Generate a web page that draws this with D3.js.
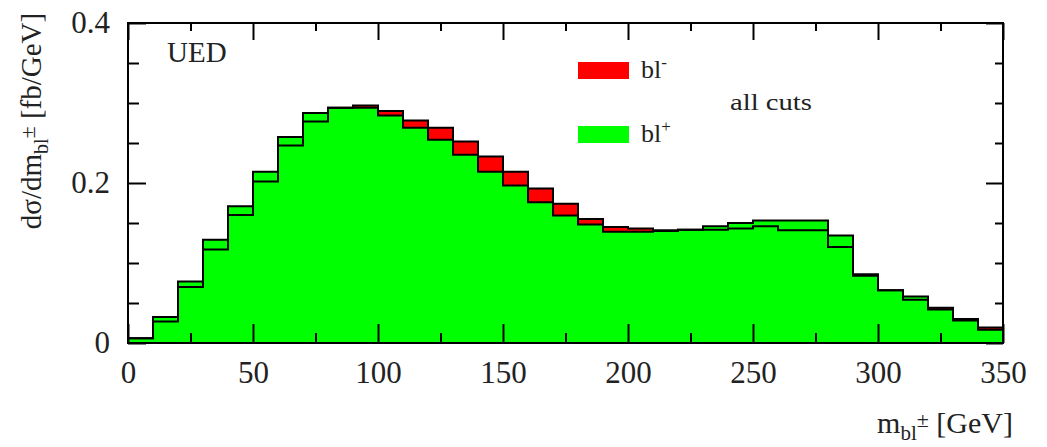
<!DOCTYPE html>
<html>
<head>
<meta charset="utf-8">
<script src="https://cdn.jsdelivr.net/npm/d3@7"></script>
<style>
  body { margin: 0; background: #fff; }
  svg text { font-family: "Liberation Serif", "Times New Roman", serif; fill: #222; }
</style>
</head>
<body>
<div id="chart"></div>
<script>
// bin lower edges (GeV), 10 GeV wide
var binEdges = [0, 10, 20, 30, 40, 50, 60, 70, 80, 90, 100, 110, 120, 130, 140, 150, 160, 170,
    180, 190, 200, 210, 220, 230, 240, 250, 260, 270, 280, 290, 300, 310, 320, 330, 340];
var binWidth = 10;

// bl- (red)
var blMinus = [0.006, 0.027, 0.070, 0.117, 0.160, 0.202, 0.247, 0.277, 0.294, 0.297, 0.290, 0.278,
    0.269, 0.252, 0.233, 0.214, 0.193, 0.174, 0.155, 0.145, 0.143, 0.141, 0.1415, 0.1416, 0.143,
    0.146, 0.141, 0.141, 0.120, 0.086, 0.066, 0.054, 0.044, 0.030, 0.0195];
// bl+ (green)
var blPlus = [0.006, 0.0325, 0.077, 0.129, 0.171, 0.214, 0.2575, 0.2875, 0.294, 0.294, 0.2845, 0.269,
    0.254, 0.2354, 0.214, 0.197, 0.176, 0.1595, 0.148, 0.139, 0.139, 0.140, 0.1415, 0.146, 0.150,
    0.153, 0.153, 0.153, 0.1345, 0.084, 0.066, 0.058, 0.042, 0.028, 0.0165];

var xMajor = [0, 50, 100, 150, 200, 250, 300, 350];
var xMinor = [25, 75, 125, 175, 225, 275, 325];
var yMajor = [0, 0.2, 0.4];
var yMinor = [0.05, 0.1, 0.15, 0.25, 0.3, 0.35];

var W = 1047, H = 447;
var margin = {top: 23, right: 44, bottom: 104, left: 128};
var width = W - margin.left - margin.right,
    height = H - margin.top - margin.bottom;

var svg = d3.select("#chart").append("svg")
    .attr("width", W)
    .attr("height", H);

var g = svg.append("g")
    .attr("transform", "translate(" + margin.left + "," + margin.top + ")");

var x = d3.scaleLinear().domain([0, 350]).range([0, width]);
var y = d3.scaleLinear().domain([0, 0.4]).range([height, 0]);

function histPoints(vals) {
    var pts = binEdges.map(function(e, i) { return [e, vals[i]]; });
    pts.push([binEdges[binEdges.length - 1] + binWidth, vals[vals.length - 1]]);
    return pts;
}

var area = d3.area()
    .x(function(d) { return x(d[0]); })
    .y0(y(0))
    .y1(function(d) { return y(d[1]); })
    .curve(d3.curveStepAfter);

var line = d3.line()
    .x(function(d) { return x(d[0]); })
    .y(function(d) { return y(d[1]); })
    .curve(d3.curveStepAfter);

// fills first, then both outlines on top
g.append("path").datum(histPoints(blMinus)).attr("d", area).attr("fill", "#ff0000");
g.append("path").datum(histPoints(blPlus)).attr("d", area).attr("fill", "#00ff00");
g.append("path").datum(histPoints(blMinus)).attr("d", line)
    .attr("fill", "none").attr("stroke", "#000").attr("stroke-width", 2);
g.append("path").datum(histPoints(blPlus)).attr("d", line)
    .attr("fill", "none").attr("stroke", "#000").attr("stroke-width", 2);

// axes (ticks pointing inward)
var fmtY = function(d) { return d === 0 ? "0" : d3.format(".1f")(d); };

function styleAxis(sel) {
    sel.select(".domain").remove();
    sel.selectAll("line").attr("stroke", "#000").attr("stroke-width", 2);
    sel.selectAll("text").style("font-size", "31px")
        .style("font-family", "'Liberation Serif', 'Times New Roman', serif").attr("fill", "#222");
}

g.append("g").attr("transform", "translate(0," + height + ")")
    .call(d3.axisBottom(x).tickValues(xMajor).tickSize(-19).tickPadding(18))
    .call(styleAxis);
g.append("g").attr("transform", "translate(0," + height + ")")
    .call(d3.axisBottom(x).tickValues(xMinor).tickSize(-10).tickFormat(""))
    .call(styleAxis);
g.append("g")
    .call(d3.axisTop(x).tickValues(xMajor).tickSize(-17).tickFormat(""))
    .call(styleAxis);
g.append("g")
    .call(d3.axisTop(x).tickValues(xMinor).tickSize(-8).tickFormat(""))
    .call(styleAxis);

g.append("g")
    .call(d3.axisLeft(y).tickValues(yMajor).tickSize(-18).tickPadding(18).tickFormat(fmtY))
    .call(styleAxis);
g.append("g")
    .call(d3.axisLeft(y).tickValues(yMinor).tickSize(-11).tickFormat(""))
    .call(styleAxis);
g.append("g").attr("transform", "translate(" + width + ",0)")
    .call(d3.axisRight(y).tickValues(yMajor).tickSize(-17).tickFormat(""))
    .call(styleAxis);
g.append("g").attr("transform", "translate(" + width + ",0)")
    .call(d3.axisRight(y).tickValues(yMinor).tickSize(-8).tickFormat(""))
    .call(styleAxis);

// frame
g.append("rect")
    .attr("x", 0).attr("y", 0)
    .attr("width", width).attr("height", height)
    .attr("fill", "none").attr("stroke", "#000").attr("stroke-width", 2);

// labels inside
g.append("text")
    .attr("x", 39).attr("y", 39)
    .style("font-size", "29px")
    .text("UED");

var legend = [
    {label: "bl", sup: "-", color: "#ff0000", yy: 39},
    {label: "bl", sup: "+", color: "#00ff00", yy: 103}
];
legend.forEach(function(d) {
    g.append("rect")
        .attr("x", 450).attr("y", d.yy)
        .attr("width", 51).attr("height", 17)
        .attr("fill", d.color);
    var t = g.append("text")
        .attr("x", 513).attr("y", d.yy + 16)
        .style("font-size", "26px");
    t.append("tspan").text(d.label);
    t.append("tspan").attr("dy", -10).style("font-size", "17px").text(d.sup);
});

g.append("text")
    .attr("x", 602).attr("y", 87)
    .attr("textLength", 82).attr("lengthAdjust", "spacingAndGlyphs")
    .style("font-size", "24px")
    .text("all cuts");

// x axis title
var xt = svg.append("text")
    .attr("x", 1013).attr("y", 433)
    .attr("text-anchor", "end")
    .style("font-size", "30px");
xt.append("tspan").text("m");
xt.append("tspan").attr("dy", 7).style("font-size", "21px").text("bl");
xt.append("tspan").attr("dy", -13).style("font-size", "22px").text("\u00b1");
xt.append("tspan").attr("dy", 6).text(" [GeV]");

// y axis title
var yt = svg.append("text")
    .attr("transform", "translate(41,121) rotate(-90)")
    .attr("text-anchor", "middle")
    .style("font-size", "29px");
yt.append("tspan").text("d\u03c3/dm");
yt.append("tspan").attr("dy", 7).style("font-size", "20px").text("bl");
yt.append("tspan").attr("dy", -13).style("font-size", "22px").text("\u00b1");
yt.append("tspan").attr("dy", 6).text(" [fb/GeV]");
</script>
</body>
</html>
